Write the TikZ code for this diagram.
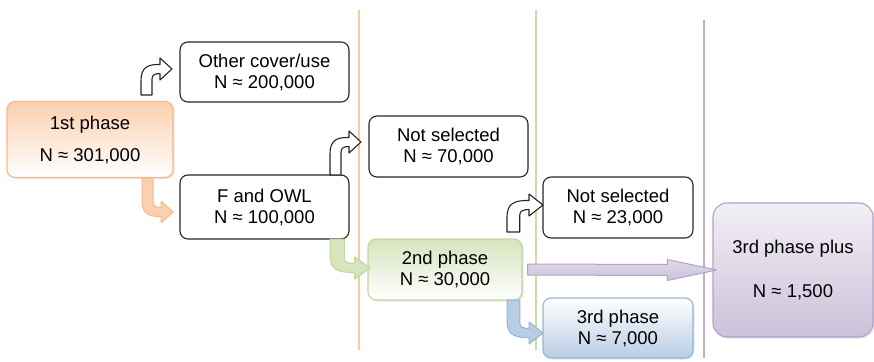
\documentclass[tikz,border=0pt]{standalone}
\usepackage{fontspec}
\setmainfont{Liberation Sans}
\usetikzlibrary{calc,shadows}

\definecolor{orangeedge}{HTML}{F8B888}
\definecolor{orangefill}{HTML}{FBD0AE}
\definecolor{orangeline}{HTML}{FBC9A0}
\definecolor{greenedge}{HTML}{C3D69B}
\definecolor{greenfill}{HTML}{D7E4BD}
\definecolor{greenline}{HTML}{CADDA6}
\definecolor{blueedge}{HTML}{95B3D7}
\definecolor{bluefill}{HTML}{B9CDE5}
\definecolor{purpleedge}{HTML}{B3A2C7}
\definecolor{purplefill}{HTML}{CCC1DA}
\definecolor{purpleline}{HTML}{BCAED0}

\tikzset{
    pics/bentarrow/.style={code={
        \draw[pic actions] (0,0) -- (0,{-#1+12}) .. controls (0,{-#1-1}) and (6,{-#1-4.5}) .. (17,{-#1-4.5})
            -- (19,{-#1-4.5}) -- (19,{-#1-11}) -- (31,{-#1}) -- (19,{-#1+11}) -- (19,{-#1+4.5})
            .. controls (14,{-#1+4.5}) and (11,{-#1+6}) .. (11,{-#1+10}) -- (11,0) -- cycle;
    }}
}

\begin{document}
\begin{tikzpicture}[x=1pt, y=-1pt,
    font=\fontsize{18.5}{21}\selectfont,
    plain/.style={draw=black!85, line width=1.1pt, rounded corners=8pt, align=center, fill=white, inner sep=0pt},
    phase/.style={draw=#1edge, line width=1.1pt, rounded corners=8pt, align=center, inner sep=0pt,
        drop shadow={opacity=0.2, shadow xshift=1.5pt, shadow yshift=-1.5pt}},
    divider/.style={line width=1.8pt, draw=#1line},
    turnblack/.style={draw=black!85, line width=1.1pt, fill=white, line join=round},
    turncolor/.style={draw=#1edge, line width=1pt, fill=#1fill, line join=round},
    fatarrow/.style={draw=purpleedge, line width=1pt, top color=purplefill!60!white, bottom color=purplefill, line join=round}
]
    \useasboundingbox (0,0) rectangle (874,361);

    \draw[divider=orange] (359,10) -- (359,350);
    \draw[divider=green] (536,10) -- (536,350);
    \draw[divider=purple] (704,20) -- (704,358);

    \node[phase=orange, top color=orangefill, bottom color=white, minimum width=166pt, minimum height=76pt] (first) at (90,139.5) {1st phase\\[11pt]N ≈ 301,000};
    \node[plain, minimum width=169pt, minimum height=60pt] (other) at (264.5,72) {Other cover/use\\N ≈ 200,000};
    \node[plain, minimum width=169pt, minimum height=64pt] (fowl) at (264.5,207) {F and OWL\\N ≈ 100,000};
    \node[plain, minimum width=159pt, minimum height=61pt] (dropa) at (448.5,146.5) {Not selected\\N ≈ 70,000};
    \node[phase=green, top color=greenfill, bottom color=white, minimum width=154pt, minimum height=61pt] (second) at (445,269.5) {2nd phase\\N ≈ 30,000};
    \node[plain, minimum width=150pt, minimum height=61pt] (dropb) at (618,207.5) {Not selected\\N ≈ 23,000};
    \node[phase=blue, top color=white, bottom color=bluefill, minimum width=150pt, minimum height=60pt] (third) at (618,328) {3rd phase\\N ≈ 7,000};
    \node[phase=purple, rounded corners=14pt, top color=purplefill!25!white, bottom color=purplefill, minimum width=160pt, minimum height=134pt] (plus) at (793,270) {3rd phase plus\\[23pt]N ≈ 1,500};

    \pic[turnblack] at (141,95) {bentarrow=26};
    \pic[turncolor=orange, yscale=-1] at (142,178) {bentarrow=34};
    \pic[turnblack] at (330,175) {bentarrow=33};
    \pic[turncolor=green, yscale=-1, xscale=1.3] at (330,239) {bentarrow=29};
    \pic[turnblack, xscale=1.16] at (507,232) {bentarrow=27};
    \pic[turncolor=blue, yscale=-1, xscale=1.16] at (507,300) {bentarrow=33};

    \draw[fatarrow] ($(second.east)+(5,-5.5)$) -- ($(plus.west)+(-45,-5.5)$) -- ($(plus.west)+(-45,-10.5)$)
        -- ($(plus.west)+(4,0)$) -- ($(plus.west)+(-45,10.5)$) -- ($(plus.west)+(-45,5.5)$)
        -- ($(second.east)+(5,5.5)$) -- cycle;
\end{tikzpicture}
\end{document}
